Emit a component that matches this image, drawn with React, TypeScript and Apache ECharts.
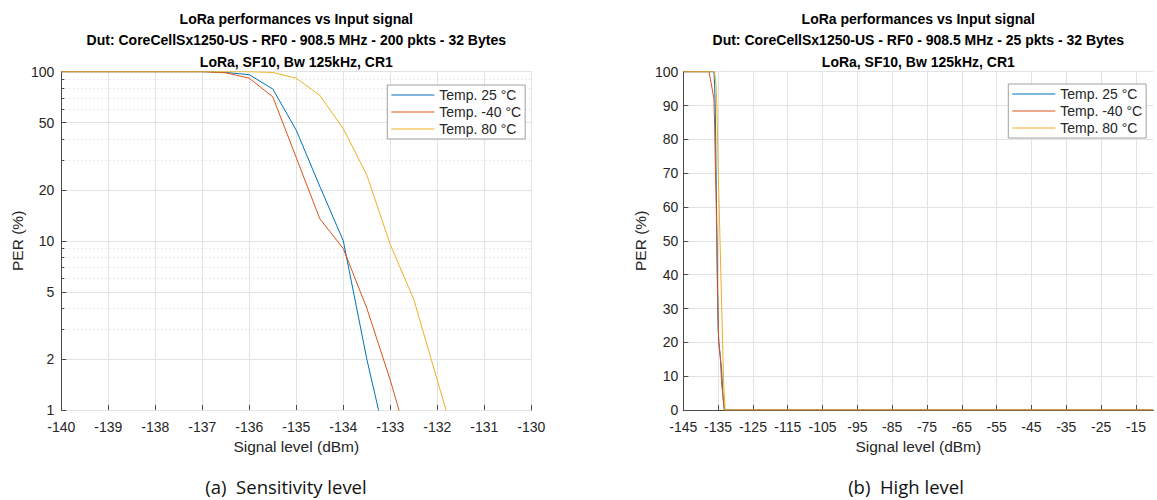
import React, { useEffect, useRef } from "react";
import * as echarts from "echarts";

// ---- Sensitivity sweep (200 packets per step) ----
const sensLevels = [-140, -137, -136.5, -136, -135.5, -135, -134.5, -134, -133.5, -133, -132.5, -132, -131.5];
const sensPer25 = [100, 100, 99, 96, 79, 45, 21, 10, 2, 0.5];
const sensPerM40 = [100, 100, 98.5, 91.5, 71, 31, 13.5, 9, 4, 1.5, 0.5];
const sensPer80 = [100, 100, 100, 100, 99, 91.5, 72.5, 46, 24.5, 9.5, 4.5, 1.5, 0.5];

// ---- High-level sweep (25 packets per step) ----
const highTailLevels = [-130, -120, -110, -100, -90, -80, -70, -60, -50, -40, -30, -20, -10];
const highTailPer = [0, 0, 0, 0, 0, 0, 0, 0, 0, 0, 0, 0, 0];
const highLevels25 = [-145, -136.2, -136.0, -135.8, -135.6, -135.4, -135.2, -135.0, -134.8, -134.4, -134.0, -133.6, -133.2];
const highPer25 = [100, 100, 96, 88, 72, 56, 40, 24, 20, 16, 12, 4, 0];
const highLevelsM40 = [-145, -137.6, -136.2, -136.0, -135.8, -135.6, -135.4, -135.2, -135.0, -134.8, -134.4, -134.0, -133.6, -133.2];
const highPerM40 = [100, 100, 92, 84, 72, 64, 52, 36, 28, 20, 16, 8, 4, 0];
const highLevels80 = [-145, -136.0, -135.6, -135.3, -135.0, -134.6, -134.2, -133.8, -133.4, -133.0];
const highPer80 = [100, 100, 96, 88, 72, 56, 40, 24, 8, 0];

// ---- Axis ticks ----
const sensYTicks = [1, 2, 5, 10, 20, 50, 100];
const sensYMinorTicks = [3, 4, 6, 7, 8, 9, 30, 40, 60, 70, 80, 90];
const highXTicks = [-145, -135, -125, -115, -105, -95, -85, -75, -65, -55, -45, -35, -25, -15];

const seriesNames = ["Temp. 25 °C", "Temp. -40 °C", "Temp. 80 °C"];
const seriesColors = ["#0072BD", "#D95319", "#EDB120"];

const titleLines = (pkts: number) => [
  "LoRa performances vs Input signal",
  `Dut: CoreCellSx1250-US - RF0 - 908.5 MHz - ${pkts} pkts - 32 Bytes`,
  "LoRa, SF10, Bw 125kHz, CR1",
];

const FONT = '"Liberation Sans", Arial, Helvetica, sans-serif';
const CAPTION_FONT = '18.5px "Open Sans", "Noto Sans", sans-serif';
const AXIS_COLOR = "#4a4a4a";
const TEXT_COLOR = "#262626";
const GRID_COLOR = "#e2e2e2";

const zip = (xs: number[], ys: number[]) => ys.map((y, i) => [xs[i], y]);

const PLOT_TOP = 71.7;
const PLOT_H = 338.3;
const PLOT_W = 470;
const LEFT_A = 61.3;
const LEFT_B = 683.3;

function buildOption(): echarts.EChartsOption {
  const axisLine = { show: true, lineStyle: { color: AXIS_COLOR, width: 1 } };
  const tickLabel = { fontSize: 14, color: TEXT_COLOR, fontFamily: FONT };
  const nameStyle = { fontSize: 15.5, color: TEXT_COLOR, fontFamily: FONT };

  const lineSeries = (
    name: string,
    color: string,
    data: number[][],
    xi: number,
    yi: number
  ) => ({
    type: "line" as const,
    name,
    xAxisIndex: xi,
    yAxisIndex: yi,
    data,
    symbol: "none",
    clip: true,
    lineStyle: { color, width: 1 },
    itemStyle: { color },
  });

  const legendBase = {
    orient: "vertical" as const,
    icon: "rect",
    itemWidth: 43,
    itemHeight: 1.2,
    itemGap: 3,
    padding: [3, 4, 3, 4],
    borderColor: "#a0a0a0",
    borderWidth: 1,
    borderRadius: 0,
    backgroundColor: "#ffffff",
    selectedMode: false,
    textStyle: { fontSize: 14, lineHeight: 14, color: TEXT_COLOR, fontFamily: FONT },
    data: seriesNames,
  };

  const titleText = (x: number, pkts: number) => ({
    type: "text" as const,
    x,
    y: 8,
    style: {
      text: titleLines(pkts).join("\n"),
      font: `bold 14px ${FONT}`,
      fill: "#000000",
      align: "center",
      verticalAlign: "top",
      lineHeight: 21.5,
    },
  });

  const captionText = (x: number, text: string) => ({
    type: "text" as const,
    x,
    y: 486,
    style: {
      text,
      font: CAPTION_FONT,
      fill: "#111111",
      align: "center",
      verticalAlign: "middle",
    },
  });

  return {
    animation: false,
    backgroundColor: "#ffffff",
    grid: [
      { left: LEFT_A, top: PLOT_TOP, width: PLOT_W, height: PLOT_H },
      { left: LEFT_B, top: PLOT_TOP, width: PLOT_W, height: PLOT_H },
    ],
    xAxis: [
      {
        gridIndex: 0,
        type: "value",
        min: -140,
        max: -130,
        interval: 1,
        axisLine,
        axisTick: { show: true, inside: true, length: 5, lineStyle: { color: AXIS_COLOR } },
        axisLabel: { ...tickLabel, margin: 10 },
        splitLine: { show: true, lineStyle: { color: GRID_COLOR, width: 1 } },
        name: "Signal level (dBm)",
        nameLocation: "middle",
        nameGap: 23,
        nameTextStyle: nameStyle,
      },
      {
        gridIndex: 1,
        type: "value",
        min: -145,
        max: -10,
        axisLine,
        axisTick: {
          show: true,
          inside: true,
          length: 5,
          customValues: highXTicks,
          lineStyle: { color: AXIS_COLOR },
        },
        axisLabel: { ...tickLabel, margin: 10, customValues: highXTicks },
        splitLine: { show: true, lineStyle: { color: GRID_COLOR, width: 1 } },
        name: "Signal level (dBm)",
        nameLocation: "middle",
        nameGap: 23,
        nameTextStyle: nameStyle,
      },
    ],
    yAxis: [
      {
        gridIndex: 0,
        type: "log",
        logBase: 10,
        min: 1,
        max: 100,
        position: "left",
        axisLine,
        axisTick: {
          show: true,
          inside: true,
          length: 5,
          customValues: sensYTicks,
          lineStyle: { color: AXIS_COLOR },
        },
        axisLabel: { ...tickLabel, margin: 7, customValues: sensYTicks },
        splitLine: { show: true, lineStyle: { color: GRID_COLOR, width: 1 } },
        name: "PER (%)",
        nameLocation: "middle",
        nameGap: 36,
        nameTextStyle: nameStyle,
        z: 3,
      },
      {
        // minor log grid (dotted)
        gridIndex: 0,
        type: "log",
        logBase: 10,
        min: 1,
        max: 100,
        position: "left",
        offset: 0,
        axisLine: { show: false },
        axisTick: {
          show: true,
          inside: true,
          length: 3,
          customValues: sensYMinorTicks,
          lineStyle: { color: AXIS_COLOR },
        },
        axisLabel: { show: false },
        splitLine: {
          show: true,
          lineStyle: { color: "#d6d6d6", width: 1, type: [1, 3] },
        },
        z: 2,
      },
      {
        gridIndex: 1,
        type: "value",
        min: 0,
        max: 100,
        interval: 10,
        axisLine,
        axisTick: { show: true, inside: true, length: 5, lineStyle: { color: AXIS_COLOR } },
        axisLabel: { ...tickLabel, margin: 5 },
        splitLine: { show: true, lineStyle: { color: GRID_COLOR, width: 1 } },
        name: "PER (%)",
        nameLocation: "middle",
        nameGap: 35,
        nameTextStyle: nameStyle,
      },
    ],
    legend: [
      { ...legendBase, left: 387.3, top: 85 },
      { ...legendBase, left: 1008.3, top: 84 },
    ],
    series: [
      lineSeries(seriesNames[0], seriesColors[0], zip(sensLevels, sensPer25), 0, 0),
      lineSeries(seriesNames[1], seriesColors[1], zip(sensLevels, sensPerM40), 0, 0),
      lineSeries(seriesNames[2], seriesColors[2], zip(sensLevels, sensPer80), 0, 0),
      lineSeries(
        seriesNames[0],
        seriesColors[0],
        zip(highLevels25.concat(highTailLevels), highPer25.concat(highTailPer)),
        1,
        2
      ),
      lineSeries(
        seriesNames[1],
        seriesColors[1],
        zip(highLevelsM40.concat(highTailLevels), highPerM40.concat(highTailPer)),
        1,
        2
      ),
      lineSeries(
        seriesNames[2],
        seriesColors[2],
        zip(highLevels80.concat(highTailLevels), highPer80.concat(highTailPer)),
        1,
        2
      ),
    ],
    graphic: [
      titleText(LEFT_A + PLOT_W / 2, 200),
      titleText(LEFT_B + PLOT_W / 2, 25),
      captionText(286, "(a)  Sensitivity level"),
      captionText(906, "(b)  High level"),
    ],
  } as echarts.EChartsOption;
}

export default function App() {
  const ref = useRef<HTMLDivElement>(null);
  useEffect(() => {
    if (!ref.current) return;
    const chart = echarts.init(ref.current, undefined, { renderer: "svg" });
    chart.setOption(buildOption());
    return () => chart.dispose();
  }, []);
  return (
    <div
      ref={ref}
      style={{ position: "fixed", left: 0, top: 0, width: 1157, height: 500, background: "#ffffff" }}
    />
  );
}
